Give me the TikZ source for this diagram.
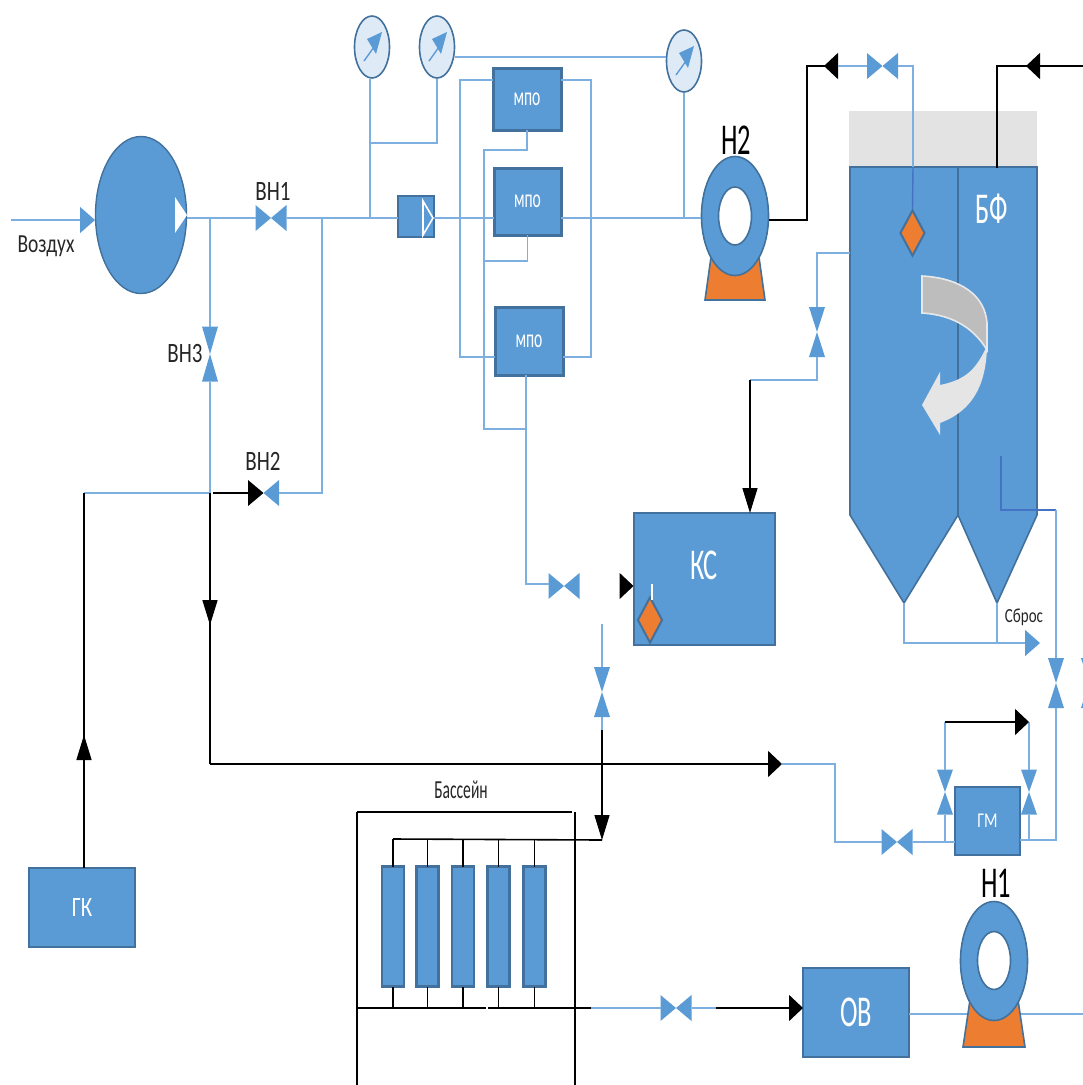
\documentclass[tikz,border=0pt]{standalone}
\usepackage{fontspec}
\setmainfont[FakeStretch=0.75]{Carlito}
\newfontfamily\tallfont[FakeStretch=0.6]{Carlito}
\usetikzlibrary{arrows.meta,calc,shapes.geometric}
\definecolor{boxblue}{HTML}{5B9BD5}
\definecolor{boxedge}{HTML}{41719C}
\definecolor{pipeblue}{HTML}{7DB0E0}
\definecolor{inkblue}{HTML}{4472C4}
\definecolor{pumporange}{HTML}{ED7D31}
\definecolor{gaugefill}{HTML}{DEEBF7}
\tikzset{
	pipe/.style={draw=pipeblue,line width=1.6pt},
	inner/.style={draw=inkblue,line width=1.4pt},
	blk/.style={draw=black,line width=1.6pt},
	bluetip/.tip={Triangle[length=15pt,width=26pt,color=boxblue,fill=boxblue]},
	blacktip/.tip={Triangle[length=14pt,width=26pt,color=black,fill=black]},
	blacktall/.tip={Triangle[length=25pt,width=15pt,color=black,fill=black]},
	box/.style={draw=boxedge,fill=boxblue,line width=2.4pt,text=white,inner sep=0pt,outer sep=0pt,align=center},
	mpobox/.style={box,line width=3pt,font=\tallfont\fontsize{26}{26}\selectfont},
	bigtext/.style={font=\tallfont\fontsize{44}{44}\selectfont,inner sep=0pt},
	element/.style={box,minimum width=22pt,minimum height=120pt},
	lbl/.style={inner sep=0pt,text=black!85},
	valveh/.style={inner sep=0pt,outer sep=0pt,minimum width=31pt,minimum height=26pt,path picture={
		\fill[#1] (path picture bounding box.north west)--(path picture bounding box.center)--(path picture bounding box.south west)--cycle;
		\fill[boxblue] (path picture bounding box.north east)--(path picture bounding box.center)--(path picture bounding box.south east)--cycle;}},
	valveh/.default=boxblue,
	valvev/.style={inner sep=0pt,outer sep=0pt,minimum width=16pt,minimum height=50pt,path picture={
		\fill[boxblue] (path picture bounding box.north west)--(path picture bounding box.center)--(path picture bounding box.north east)--cycle;
		\fill[boxblue] (path picture bounding box.south west)--(path picture bounding box.center)--(path picture bounding box.south east)--cycle;}},
	gauge/.style={ellipse,draw=boxedge,fill=gaugefill,line width=1.6pt,inner sep=0pt,minimum width=35pt,minimum height=62pt},
	ring/.style={ellipse,draw=boxedge,fill=boxblue,line width=1.6pt,inner sep=0pt,minimum width=67pt,minimum height=119pt},
	hole/.style={ellipse,draw=boxedge,fill=white,line width=1.6pt,inner sep=0pt,minimum width=33pt,minimum height=58pt},
	base/.style={draw=boxedge,fill=pumporange,line width=1.6pt},
	probe/.style={diamond,draw=boxedge,fill=pumporange,line width=2pt,inner sep=0pt,minimum width=25pt,minimum height=46pt,aspect=0.55},
}
\begin{document}
\begin{tikzpicture}[x=1pt,y=-1pt]
	\useasboundingbox (0,0) rectangle (1083,1085);
	\clip (0,0) rectangle (1083,1085);
	
	% tank
	\fill[black!11] (849,111) rectangle (1037,167);
	\draw[fill=boxblue,draw=boxedge,line width=1.6pt] (850,167)--(1037,167)--(1037,515)--(997,603)--(958,515)--(904,603)--(850,515)--cycle;
	\draw[draw=boxedge,line width=1.6pt] (958,167)--(958,515);
	\fill[black!10] (987,323) .. controls (988,360) and (988,405) .. (940,423)--(940,435)--(922,405)--(940,372)--(940,385) .. controls (965,380) and (975,370) .. (985,350)--cycle;
	\draw[fill=black!26,draw=black!9,line width=1.6pt] (922,276) .. controls (960,278) and (985,295) .. (987,323)--(987,350) .. controls (975,330) and (955,315) .. (922,313)--cycle;
	\node[bigtext,text=white] (bf) at (992,209) {БФ};
	\node[probe] (tankprobe) at (912.5,233) {};
	
	% main equipment
	\node[ellipse,draw=boxedge,fill=boxblue,line width=1.4pt,inner sep=0pt,minimum width=91pt,minimum height=157pt] (comp) at (141,215) {};
	\fill[white] (175,197)--(187,215)--(175,233)--cycle;
	\node[box,minimum width=36pt,minimum height=41pt] (filt) at (416,216.5) {};
	\draw[white,line width=1.6pt] (423,201)--(433,218)--(423,235)--cycle;
	\node[mpobox,minimum width=68pt,minimum height=62pt] (mpoa) at (527,99) {мпо};
	\node[mpobox,minimum width=67pt,minimum height=67pt] (mpob) at (527.5,201.5) {мпо};
	\node[mpobox,minimum width=68pt,minimum height=68pt] (mpoc) at (529,341) {мпо};
	\node[box,line width=2pt,minimum width=141pt,minimum height=132pt] (ks) at (704,579) {};
	\node[bigtext,text=white] (kstext) at (704,565) {КС};
	\node[probe] (ksprobe) at (650,620) {};
	\draw[white,line width=1.2pt] (652,584)--(652,600);
	\node[box,minimum width=65pt,minimum height=68pt,font=\fontsize{21}{21}\selectfont] (gm) at (987.5,821) {ГМ};
	\node[box,line width=2pt,minimum width=106pt,minimum height=79pt,font=\fontsize{28}{28}\selectfont] (gk) at (82,907.5) {ГК};
	\node[box,line width=2pt,minimum width=106pt,minimum height=89pt,font=\tallfont\fontsize{44}{44}\selectfont] (ov) at (856,1012.5) {ОВ};
	
	% pumps
	\draw[base] (712,250)--(705,300)--(765,300)--(758,250)--cycle;
	\node[ring] (pumptwo) at (735,216) {};
	\node[hole] (holetwo) at (735,216) {};
	\node[bigtext] (ntwo) at (736,140) {Н2};
	\draw[base] (970,1000)--(963,1047)--(1025,1047)--(1018,1000)--cycle;
	\node[ring] (pumpone) at (994,961) {};
	\node[hole] (holeone) at (994,960.5) {};
	\node[bigtext] (none) at (996,883) {Н1};
	
	% valves
	\node[valveh] (vnone) at (271,218) {};
	\node[valveh=black] (vntwo) at (263.5,493) {};
	\node[valvev,minimum height=55pt] (vnthree) at (210,354) {};
	\node[valveh] (vks) at (564,586) {};
	\node[valvev] (vpool) at (602,692) {};
	\node[valveh] (vtop) at (882.5,66) {};
	\node[valvev] (vtank) at (817,332) {};
	\node[valvev] (vdrain) at (1056,683) {};
	\node[valvev] (vclip) at (1089,683) {};
	\node[valvev,minimum height=45pt] (vgml) at (945,792) {};
	\node[valvev,minimum height=45pt] (vgmr) at (1029,792) {};
	\node[valveh] (vgm) at (897,842) {};
	\node[valveh] (vov) at (676,1008) {};
	
	% labels
	\node[lbl,font=\fontsize{26}{26}\selectfont] (air) at (46,246) {Воздух};
	\node[lbl,font=\fontsize{28}{28}\selectfont] (lone) at (273,191) {ВН1};
	\node[lbl,font=\fontsize{28}{28}\selectfont] (lthree) at (185,354) {ВН3};
	\node[lbl,font=\fontsize{28}{28}\selectfont] (ltwo) at (263,461) {ВН2};
	\node[lbl,font=\tallfont\fontsize{26}{26}\selectfont] (lpool) at (461,790) {Бассейн};
	\node[lbl,font=\fontsize{20}{20}\selectfont] (ldrain) at (1024,617) {Сброс};
	
	% gauges
	\foreach \g/\gx/\gy in {ga/372/47,gb/437/47,gc/684/61}{
		\node[gauge] (\g) at (\gx,\gy) {};
		\fill[boxblue] (\gx+10,\gy-15)--(\gx-5,\gy-8)--(\gx+4,\gy+7)--cycle;
		\draw[boxblue,line width=1.4pt] (\gx-8,\gy+14)--(\gx+2,\gy);
	}
	
	% air line
	\coordinate (airin) at (11,220);
	\draw[pipe] (airin)--(80,220);
	\draw[pipe,-{bluetip}] (airin)--(95,220);
	\draw[pipe] (comp.east |- vnone)--(vnone.west);
	\draw[pipe] (vnone.east)--(filt.west |- vnone);
	\draw[pipe] (filt.east |- vnone)--(mpob.west |- vnone);
	\draw[pipe] (mpob.east |- vnone)--(pumptwo.west |- vnone);
	\coordinate (tapa) at (210,218);
	\coordinate (tapb) at (322,218);
	\coordinate (tapc) at (210,493);
	\coordinate (tapd) at (322,493);
	\coordinate (tape) at (84,493);
	\coordinate (tapf) at (210,764);
	\draw[pipe] (tapa)--(vnthree.north);
	\draw[pipe] (vnthree.south)--(tapc);
	\draw[pipe] (tapb)--(tapd)--(vntwo.east);
	\draw[pipe] (tape)--(tapc);
	\draw[blk] (213,493)--(vntwo.west);
	\draw[blk,-{blacktall}] (gk.north -| tape)--(84,735);
	\draw[blk] (tape)--(84,760);
	\draw[blk,-{blacktall}] (tapc)--(210,625);
	\draw[blk] (tapc)--(tapf);
	\coordinate (tapg) at (782,764);
	\draw[blk,-{blacktip}] (tapf)--(tapg);
	\draw[pipe] (tapg)--(835,764)--(835,842)--(vgm.west);
	\draw[pipe] (vgm.east)--(gm.west |- vgm);
	
	% gauge lines
	\coordinate (gbr) at (370,143);
	\draw[pipe] (ga.south -| gbr)--(gbr |- vnone);
	\draw[pipe] (gbr)--(gbr -| gb.south)--(gb.south);
	\draw[pipe] (455,57)--(666,57);
	\draw[pipe] (gc.south)--(gc.south |- vnone);
	
	% mpo frames
	\coordinate (fa) at (460,80);
	\coordinate (fb) at (460,357);
	\coordinate (fc) at (591,80);
	\coordinate (fd) at (591,357);
	\coordinate (fe) at (484,150);
	\coordinate (ff) at (484,261);
	\coordinate (fg) at (484,429);
	\coordinate (fh) at (526,429);
	\coordinate (fi) at (526,584);
	\draw[pipe] (mpoa.west |- fa)--(fa)--(fb)--(mpoc.west |- fb);
	\draw[pipe] (mpoa.east |- fc)--(fc)--(fd)--(mpoc.east |- fd);
	\draw[pipe] (mpoa.south)--(mpoa.south |- fe)--(fe)--(fg)--(fh);
	\draw[pipe] (mpob.south)--(mpob.south |- ff)--(ff);
	\draw[pipe] (mpoc.south -| fh)--(fi)--(vks.west |- fi);
	\draw[blk,-{blacktip}] (621,586)--(ks.west |- vks);
	
	% pool feed
	\coordinate (pa) at (602,624);
	\coordinate (pb) at (602,730);
	\coordinate (pc) at (602,840);
	\coordinate (pd) at (393,839);
	\draw[pipe] (pa)--(vpool.north);
	\draw[pipe] (vpool.south)--(pb);
	\draw[blk,line width=1.4pt,-{blacktall}] (pb)--(pc);
	\draw[blk] (pd)--(pc);
	
	% pool
	\coordinate (ba) at (357,812);
	\coordinate (bb) at (572,812);
	\coordinate (bc) at (575,812);
	\coordinate (bd) at (357,1008);
	\coordinate (be) at (591,1008);
	\draw[blk] (ba)--(bb);
	\draw[blk,line width=1.2pt] (ba)--(357,1085);
	\draw[blk,line width=1.2pt] (bc)--(575,1085);
	\draw[blk] (bd)--(486,1008);
	\draw[blk] (488,1008)--(be);
	\foreach \n/\ex in {a/393,b/427.5,c/463,d/498.5,e/534.5}{
		\node[element] (el\n) at (\ex,926.5) {};
		\draw[blk,line width=1.3pt] (el\n.north)--(el\n.north |- pd);
		\draw[blk,line width=1.3pt] (el\n.south)--(el\n.south |- bd);
	}
	\draw[pipe] (be)--(vov.west);
	\coordinate (oa) at (716,1008);
	\draw[pipe] (vov.east)--(oa);
	\draw[blk,-{blacktip}] (oa)--(ov.west |- oa);
	\coordinate (ob) at (967,1014);
	\coordinate (oc) at (1021,1014);
	\draw[pipe] (ov.east |- ob)--(ob);
	\draw[pipe] (oc)--(1083,1014);
	
	% pump two out
	\coordinate (ta) at (807,220);
	\coordinate (tb) at (807,66);
	\coordinate (tc) at (838,66);
	\coordinate (td) at (913,66);
	\coordinate (te) at (913,167);
	\draw[blk] (pumptwo.east |- ta)--(ta)--(tb)--(825,66);
	\draw[blk,-{blacktip}] (tc)--(824,66);
	\draw[pipe] (tc)--(vtop.west);
	\draw[pipe] (vtop.east)--(td)--(te);
	\draw[inner] (te)--(tankprobe.north);
	\coordinate (tf) at (997,66);
	\coordinate (tg) at (997,168);
	\draw[blk] (1083,66)--(tf)--(tg);
	\draw[blk,-{blacktip}] (1083,66)--(1026,66);
	
	% tank outlet
	\coordinate (ua) at (850,253);
	\coordinate (ub) at (817,253);
	\coordinate (uc) at (817,380);
	\coordinate (ud) at (750,380);
	\draw[pipe] (ua)--(ub)--(vtank.north);
	\draw[pipe] (vtank.south)--(uc)--(ud);
	\draw[blk,line width=1.4pt,-{blacktall}] (ud)--(ud |- ks.north);
	
	% drain
	\coordinate (da) at (904,603);
	\coordinate (db) at (904,643);
	\coordinate (dc) at (997,603);
	\coordinate (dd) at (1040,643);
	\draw[pipe,-{bluetip}] (da)--(db)--(dd);
	\draw[pipe] (dc)--(dc |- db);
	
	% gm bypass
	\coordinate (ga1) at (1001,456);
	\coordinate (ga2) at (1001,510);
	\coordinate (ga3) at (1056,510);
	\coordinate (ga4) at (1056,840);
	\draw[inner] (ga1)--(ga2)--(ga3);
	\draw[pipe] (ga3)--(vdrain.north);
	\draw[pipe] (vdrain.south)--(ga4)--(gm.east |- ga4);
	\coordinate (gt1) at (945,722);
	\coordinate (gt2) at (1029,722);
	\draw[pipe] (vgml.south)--(vgml.south |- vgm);
	\draw[pipe] (vgml.north)--(gt1);
	\draw[pipe] (vgmr.south)--(vgmr.south |- ga4);
	\draw[pipe] (vgmr.north)--(gt2);
	\draw[blk,-{blacktip}] (gt1)--(gt2);
\end{tikzpicture}
\end{document}
